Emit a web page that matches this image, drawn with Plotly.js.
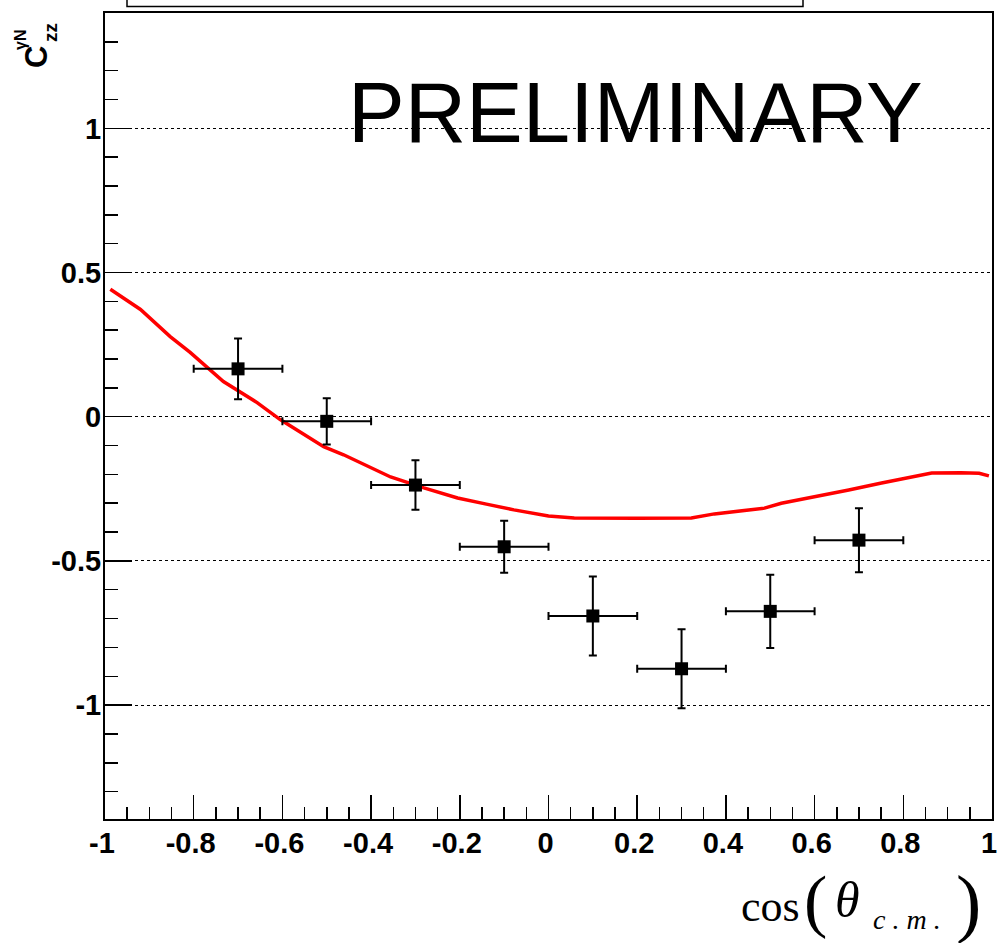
<!DOCTYPE html>
<html>
<head>
<meta charset="utf-8">
<script src="https://cdn.plot.ly/plotly-3.0.1.min.js"></script>
<style>html,body{margin:0;padding:0;background:#fff;}#plot{width:998px;height:943px;}</style>
</head>
<body>
<div id="plot"></div>
<script>
// Data points (cos theta_cm, C_zz)
const dataX = [-0.7, -0.5, -0.3, -0.1, 0.1, 0.3, 0.5, 0.7];
const dataY = [0.166, -0.016, -0.237, -0.451, -0.691, -0.874, -0.675, -0.428];
const dataErrY = [0.105, 0.08, 0.086, 0.09, 0.137, 0.137, 0.127, 0.111];
const dataErrX = [0.1, 0.1, 0.1, 0.1, 0.1, 0.1, 0.1, 0.1];

// Theory curve
const curveX = [-0.988,-0.92,-0.853,-0.808,-0.733,-0.657,-0.605,-0.507,-0.462,-0.356,-0.281,-0.205,-0.14,-0.078,0,0.058,0.2,0.322,0.374,0.487,0.525,0.6,0.677,0.751,0.826,0.864,0.93,0.971,0.993];
const curveY = [0.442,0.372,0.278,0.223,0.122,0.049,-0.01,-0.104,-0.132,-0.209,-0.247,-0.282,-0.303,-0.323,-0.344,-0.351,-0.352,-0.351,-0.337,-0.317,-0.30,-0.278,-0.254,-0.23,-0.208,-0.195,-0.194,-0.196,-0.205];

const xTickVals = [-1,-0.8,-0.6,-0.4,-0.2,0,0.2,0.4,0.6,0.8,1];
const xTickText = ['-1','-0.8','-0.6','-0.4','-0.2','0','0.2','0.4','0.6','0.8','1'];
const yTickVals = [-1,-0.5,0,0.5,1];
const yTickText = ['-1','-0.5','0','0.5','1'];

const M = {l:105, r:6, t:13, b:124};
const W = 998, H = 943;
const pw = W - M.l - M.r, ph = H - M.t - M.b;
const px = v => (v - M.l) / pw;
const py = v => (H - M.b - v) / ph;

const tickFont = {family:'Liberation Sans, Arial', size:29, color:'#000', weight:'bold'};

const traces = [
  {
    x: curveX, y: curveY, type:'scatter', mode:'lines',
    line:{color:'#ff0000', width:3.5}, hoverinfo:'skip', showlegend:false
  },
  {
    x: dataX, y: dataY, type:'scatter', mode:'markers',
    marker:{symbol:'square', size:13, color:'#000'},
    error_y:{type:'data', array:dataErrY, visible:true, color:'#000', thickness:2, width:4},
    error_x:{type:'data', array:dataErrX, visible:true, color:'#000', thickness:2, width:4},
    showlegend:false
  }
];

const serif = 'Liberation Serif, Times New Roman, serif';
const layout = {
  width: W, height: H,
  margin: M,
  paper_bgcolor:'#fff', plot_bgcolor:'#fff',
  showlegend:false,
  xaxis:{
    range:[-1,1], showgrid:false, zeroline:false,
    showline:true, linecolor:'#000', linewidth:2, mirror:true,
    ticks:'inside', ticklen:24, tickwidth:1.5, tickcolor:'#000',
    tickvals:xTickVals, ticktext:xTickText, tickfont:tickFont,
    minor:{dtick:0.05, tick0:0, ticks:'inside', ticklen:12, tickwidth:1.5, tickcolor:'#000', showgrid:false},
    ticklabelstandoff: -3, ticklabeloverflow:'allow', ticklabelshift:-3
  },
  yaxis:{
    range:[-1.395,1.40], zeroline:false,
    showgrid:true, gridcolor:'#000', griddash:'dot', gridwidth:1,
    showline:true, linecolor:'#000', linewidth:2, mirror:true,
    ticks:'inside', ticklen:27, tickwidth:1.5, tickcolor:'#000',
    tickvals:yTickVals, ticktext:yTickText, tickfont:tickFont,
    minor:{dtick:0.1, tick0:0, ticks:'inside', ticklen:13, tickwidth:1.5, tickcolor:'#000', showgrid:false},
    ticklabelstandoff: -4, ticklabeloverflow:'allow'
  },
  shapes:[
    {type:'rect', xref:'paper', yref:'paper', x0:px(127), x1:px(803), y0:py(6.5), y1:py(-20),
     line:{color:'#000', width:1.5}, fillcolor:'rgba(0,0,0,0)'}
  ],
  annotations:[
    {text:'PRELIMINARY', xref:'paper', yref:'paper', x:px(635), y:py(112), xanchor:'center', yanchor:'middle',
     showarrow:false, font:{family:'Liberation Sans, Arial', size:85, color:'#000'}},
    // y-axis title C_zz^{γN}
    {text:'<b>C</b>', xref:'paper', yref:'paper', x:px(37), y:py(57), xanchor:'center', yanchor:'middle',
     textangle:-90, showarrow:false, font:{family:'Liberation Sans, Arial', size:31, color:'#000'}},
    {text:'<b>zz</b>', xref:'paper', yref:'paper', x:px(50), y:py(33), xanchor:'center', yanchor:'middle',
     textangle:-90, showarrow:false, font:{family:'Liberation Sans, Arial', size:19, color:'#000'}},
    {text:'<b>γN</b>', xref:'paper', yref:'paper', x:px(20), y:py(40), xanchor:'center', yanchor:'middle',
     textangle:-90, showarrow:false, font:{family:'Liberation Sans, Arial', size:16, color:'#000'}},
    // x-axis title cos(θ_c.m.)
    {text:'cos', xref:'paper', yref:'paper', x:px(770), y:py(906), xanchor:'center', yanchor:'middle',
     showarrow:false, font:{family:serif, size:44, color:'#000'}},
    {text:'(', xref:'paper', yref:'paper', x:px(815), y:py(900), xanchor:'center', yanchor:'middle',
     showarrow:false, font:{family:serif, size:70, color:'#000'}},
    {text:'<i>θ</i>', xref:'paper', yref:'paper', x:px(847), y:py(900), xanchor:'center', yanchor:'middle',
     showarrow:false, font:{family:serif, size:50, color:'#000'}},
    {text:'<i>c . m .</i>', xref:'paper', yref:'paper', x:px(907), y:py(920), xanchor:'center', yanchor:'middle',
     showarrow:false, font:{family:serif, size:28, color:'#000'}},
    {text:')', xref:'paper', yref:'paper', x:px(968), y:py(902), xanchor:'center', yanchor:'middle',
     showarrow:false, font:{family:serif, size:76, color:'#000'}}
  ]
};

Plotly.newPlot('plot', traces, layout, {displayModeBar:false, staticPlot:true});
</script>
</body>
</html>
